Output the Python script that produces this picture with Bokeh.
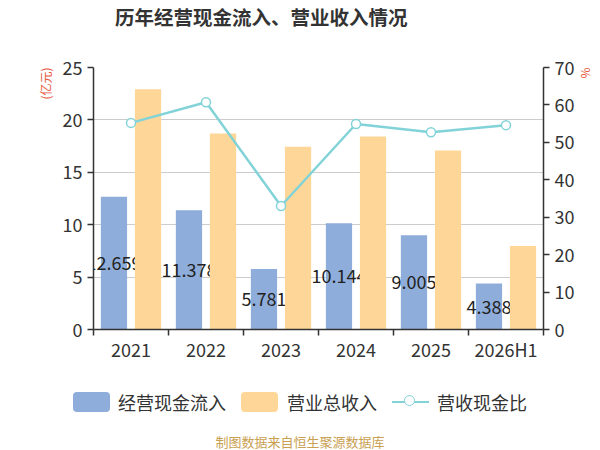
from bokeh.plotting import figure
from bokeh.layouts import column
from bokeh.models import Range1d, LinearAxis, FixedTicker, ColumnDataSource, Title, Div
from bokeh.core.properties import value
from bokeh.embed import file_html
from bokeh.resources import INLINE

categories = ["2021", "2022", "2023", "2024", "2025", "2026H1"]
cash_inflow = [12.659, 11.378, 5.781, 10.144, 9.005, 4.388]
revenue = [22.92, 18.71, 17.43, 18.42, 17.08, 7.96]
ratio = [55.2, 60.7, 33.0, 54.9, 52.7, 54.6]
left_ticks = [0, 5, 10, 15, 20, 25]
right_ticks = [0, 10, 20, 30, 40, 50, 60, 70]
series_names = ["经营现金流入", "营业总收入", "营收现金比"]
title_text = "历年经营现金流入、营业收入情况"
source_text = "制图数据来自恒生聚源数据库"

FONT = "Noto Sans CJK SC"
BLUE = "#8eadda"
ORANGE = "#fed798"
TEAL = "#82d3d8"
RED = "#e5553a"
GOLD = "#c9a052"

xc = [i + 0.5 for i in range(len(categories))]
off = 0.227
w = 0.35
src = ColumnDataSource(dict(
    xb=[x - off for x in xc], xo=[x + off for x in xc], xc=xc,
    cash=cash_inflow, rev=revenue, ratio=ratio,
    mid=[v / 2 for v in cash_inflow],
    lbl=[f"{v:.3f}" for v in cash_inflow],
))

p = figure(width=600, height=340, x_range=Range1d(0, len(categories)), y_range=Range1d(0, 25),
           output_backend="svg", toolbar_location=None, margin=0,
           min_border_left=93, min_border_right=57, min_border_top=27, min_border_bottom=51)
p.outline_line_color = None
p.extra_y_ranges = {"r": Range1d(0, 70)}

b1 = p.vbar(x="xb", top="cash", width=w, bottom=0, source=src, fill_color=BLUE, line_color=None)
p.text(x="xb", y="mid", text="lbl", source=src, text_align="center", text_baseline="middle",
       text_font=value(FONT), text_font_size="18px", text_color="#222222")
b2 = p.vbar(x="xo", top="rev", width=w, bottom=0, source=src, fill_color=ORANGE, line_color=None)
l1 = p.line(x="xc", y="ratio", source=src, y_range_name="r", line_color=TEAL, line_width=2.5)
c1 = p.scatter(x="xc", y="ratio", source=src, y_range_name="r", size=9, fill_color="white",
               line_color=TEAL, line_width=1.5)

xa = p.xaxis[0]
xa.ticker = FixedTicker(ticks=xc, minor_ticks=list(range(len(categories) + 1)))
xa.major_label_overrides = {x: c for x, c in zip(xc, categories)}
xa.major_tick_out = 0
xa.major_tick_in = 0
xa.minor_tick_out = 6
xa.minor_tick_in = 0
xa.minor_tick_line_color = "#333333"
xa.minor_tick_line_width = 1.5
xa.axis_line_color = "#333333"
xa.axis_line_width = 1.5
xa.major_label_text_font = FONT
xa.major_label_text_font_size = "18px"
xa.major_label_text_color = "#333333"
xa.major_label_standoff = 0

def style_y(ax):
    ax.minor_tick_line_color = None
    ax.major_tick_out = 6
    ax.major_tick_in = 0
    ax.major_tick_line_color = "#333333"
    ax.major_tick_line_width = 1.5
    ax.axis_line_color = "#333333"
    ax.axis_line_width = 1.5
    ax.major_label_text_font = FONT
    ax.major_label_text_font_size = "18px"
    ax.major_label_text_color = "#333333"
    ax.major_label_standoff = 5

ya = p.yaxis[0]
ya.ticker = FixedTicker(ticks=left_ticks)
style_y(ya)
ra = LinearAxis(y_range_name="r", ticker=FixedTicker(ticks=right_ticks))
style_y(ra)
p.add_layout(ra, "right")

p.xgrid.grid_line_color = None
p.ygrid.ticker = FixedTicker(ticks=left_ticks)
p.ygrid.grid_line_color = "#cccccc"
p.ygrid.grid_line_width = 1

p.add_layout(Title(text="(亿元)", align="right", standoff=11, text_font=FONT, text_font_size="12px",
                   text_font_style="normal", text_color=RED), "left")
p.add_layout(Title(text="%", align="left", standoff=0, text_font=FONT, text_font_size="12px",
                   text_font_style="normal", text_color=RED), "right")

title_div = Div(width=600, height=40, margin=0, text=(
    f'<div style="position:relative;width:600px;height:40px;">'
    f'<div style="position:absolute;left:115px;top:4px;white-space:nowrap;font-family:\'{FONT}\';'
    f'font-size:19.5px;font-weight:bold;line-height:26px;color:#333333;">{title_text}</div></div>'))

def lab(x, t):
    return (f'<div style="position:absolute;left:{x}px;top:9px;white-space:nowrap;font-size:18px;'
            f'line-height:26px;color:#333333;">{t}</div>')

legend_div = Div(width=600, height=70, margin=0, text=(
    f'<div style="position:relative;width:600px;height:70px;font-family:\'{FONT}\';">'
    f'<div style="position:absolute;left:73px;top:12px;width:37px;height:20px;border-radius:4px;background:{BLUE};"></div>'
    + lab(118, series_names[0]) +
    f'<div style="position:absolute;left:241px;top:12px;width:37px;height:20px;border-radius:4px;background:{ORANGE};"></div>'
    + lab(287, series_names[1]) +
    f'<div style="position:absolute;left:392px;top:20.5px;width:37px;height:2.5px;background:{TEAL};"></div>'
    f'<div style="position:absolute;left:403.5px;top:14.7px;width:11px;height:11px;border:1.5px solid {TEAL};'
    f'border-radius:50%;background:#ffffff;"></div>'
    + lab(437, series_names[2]) +
    f'<div style="position:absolute;left:0px;top:53.7px;width:600px;text-align:center;font-size:13px;'
    f'line-height:16px;color:{GOLD};">{source_text}</div>'
    '</div>'))

layout = column(title_div, p, legend_div, spacing=0, margin=0)
open("out.html", "w").write(file_html(layout, INLINE))
